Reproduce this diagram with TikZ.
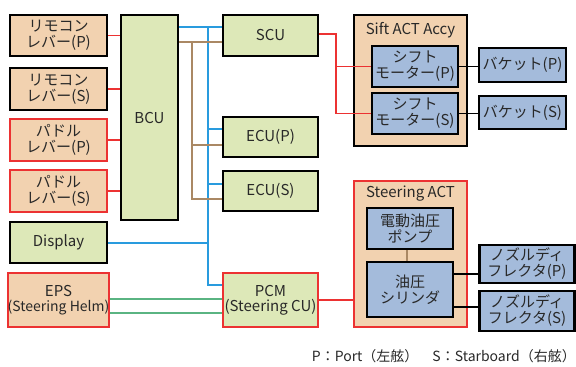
\documentclass[tikz,border=0pt]{standalone}
\usepackage{fontspec}
\setmainfont{Noto Sans CJK JP}
\usetikzlibrary{backgrounds}
\pgfdeclarelayer{bottom}
\pgfsetlayers{bottom,background,main}
\definecolor{tanfill}{RGB}{242,210,176}
\definecolor{grnfill}{RGB}{221,232,184}
\definecolor{blufill}{RGB}{164,187,219}
\definecolor{redline}{RGB}{236,50,50}
\definecolor{bluline}{RGB}{41,155,222}
\definecolor{brnline}{RGB}{170,136,100}
\definecolor{grnline}{RGB}{90,180,130}
\definecolor{txt}{RGB}{40,40,40}
\tikzset{
  box/.style={draw=black, line width=2.2pt, inner sep=0pt, align=center,
    text=txt, font=\fontsize{15}{16}\selectfont},
  tanbox/.style={box, fill=tanfill},
  grnbox/.style={box, fill=grnfill},
  blubox/.style={box, fill=blufill},
  redb/.style={draw=redline, line width=1.8pt},
  cont/.style={draw=black, line width=2.2pt, fill=tanfill},
  title/.style={font=\fontsize{15}{16}\selectfont, text=txt, inner sep=0pt},
  rl/.style={draw=redline, line width=1.8pt},
  bl/.style={draw=bluline, line width=1.8pt},
  brl/.style={draw=brnline, line width=1.8pt},
  gl/.style={draw=grnline, line width=1.8pt},
  kl/.style={draw=black, line width=1.8pt},
}
\begin{document}
\begin{tikzpicture}[x=1pt,y=-1pt]
\useasboundingbox (0,0) rectangle (576,367);
% containers
\begin{pgfonlayer}{bottom}
\draw[cont] (354,15) rectangle (467,146);
\draw[cont, draw=redline, line width=1.8pt] (354,181) rectangle (467,327);
\end{pgfonlayer}
\node[title] (siftt) at (410.5,30) {Sift ACT Accy};
\node[title] (steert) at (410.5,194) {Steering ACT};
% left column
\node[tanbox, minimum width=97pt, minimum height=41pt] (rlP) at (58.5,35.5) {リモコン\\レバー(P)};
\node[tanbox, minimum width=97pt, minimum height=42pt] (rlS) at (58.5,89) {リモコン\\レバー(S)};
\node[tanbox, redb, minimum width=97pt, minimum height=42pt] (plP) at (58.5,140) {パドル\\レバー(P)};
\node[tanbox, redb, minimum width=97pt, minimum height=42pt] (plS) at (58.5,191) {パドル\\レバー(S)};
\node[grnbox, minimum width=97pt, minimum height=41pt] (disp) at (58.5,242.5) {Display};
\node[tanbox, redb, minimum width=97pt, minimum height=54pt] (eps) at (58.5,300) {EPS\\[-1pt]{\fontsize{14}{15}\selectfont(Steering Helm)}};
\node[grnbox, minimum width=57pt, minimum height=205pt] (bcu) at (149.5,117.5) {BCU};
% middle column
\node[grnbox, minimum width=95pt, minimum height=41pt] (scu) at (270.5,35.5) {SCU};
\node[grnbox, minimum width=95pt, minimum height=40pt] (ecuP) at (270.5,137) {ECU(P)};
\node[grnbox, minimum width=95pt, minimum height=40pt] (ecuS) at (270.5,191) {ECU(S)};
\node[grnbox, redb, minimum width=95pt, minimum height=54pt] (pcm) at (270.5,300) {PCM\\[-1pt](Steering CU)};
% right side
\node[blubox, minimum width=86pt, minimum height=41pt] (smP) at (415,66.5) {シフト\\モーター(P)};
\node[blubox, minimum width=86pt, minimum height=41pt] (smS) at (415,113.5) {シフト\\モーター(S)};
\node[blubox, minimum width=87pt, minimum height=34pt] (bkP) at (522.5,65) {バケット(P)};
\node[blubox, minimum width=87pt, minimum height=33pt] (bkS) at (522.5,112.5) {バケット(S)};
\node[blubox, minimum width=86pt, minimum height=41pt] (pump) at (410,228.5) {電動油圧\\ポンプ};
\node[blubox, minimum width=86pt, minimum height=55pt] (cyl) at (410,289.5) {油圧\\シリンダ};
\node[blubox, minimum width=95pt, minimum height=38pt] (nzP) at (527,264) {ノズルディ\\フレクタ(P)};
\node[blubox, minimum width=95pt, minimum height=40pt] (nzS) at (527,311) {ノズルディ\\フレクタ(S)};
% footer
\node[anchor=east, inner sep=0pt, text=txt, font=\fontsize{14}{15}\selectfont] (foot) at (576,356) {P：Port（左舷）\quad S：Starboard（右舷）};
% connectors
\begin{pgfonlayer}{background}
\coordinate (bv) at (208,27);
\coordinate (nv) at (192,42);
\draw[rl] (rlP.east) -- (rlP.east -| bcu.west);
\draw[rl] (rlS.east) -- (rlS.east -| bcu.west);
\draw[rl] (plP.east) -- (plP.east -| bcu.west);
\draw[rl] (plS.east) -- (plS.east -| bcu.west);
% blue bus
\draw[bl] (bcu.east |- 0,27) -- (scu.west |- 0,27);
\draw[bl] (bv) -- (208,285) -- (pcm.west |- 0,285);
\draw[bl] (208,129) -- (ecuP.west |- 0,129);
\draw[bl] (208,184) -- (ecuS.west |- 0,184);
\draw[bl] (disp.east |- 0,243) -- (208,243);
% brown bus
\draw[brl] (bcu.east |- 0,42) -- (scu.west |- 0,42);
\draw[brl] (nv) -- (192,199) -- (ecuS.west |- 0,199);
\draw[brl] (192,145) -- (ecuP.west |- 0,145);
% green
\draw[gl] (eps.east |- 0,299) -- (pcm.west |- 0,299);
\draw[gl] (eps.east |- 0,313) -- (pcm.west |- 0,313);
% red to steering act
\draw[rl] (pcm.east |- 0,300) -- (354,300);
% SCU to shift motors
\draw[rl] (scu.east |- 0,34) -- (336,34) -- (336,113.5) -- (smS.west);
\draw[rl] (336,66.5) -- (smP.west);
% motors to buckets
\draw[kl] (smP.east) -- (smP.east -| bkP.west);
\draw[kl] (smS.east) -- (smS.east -| bkS.west);
% pump to cylinder
\draw[brl] (407,249.5) -- (407,261.5);
% cylinder to nozzles
\draw[kl] (cyl.east |- 0,274) -- (nzP.west |- 0,274);
\draw[kl] (cyl.east |- 0,307) -- (nzS.west |- 0,307);
\end{pgfonlayer}
\end{tikzpicture}
\end{document}
